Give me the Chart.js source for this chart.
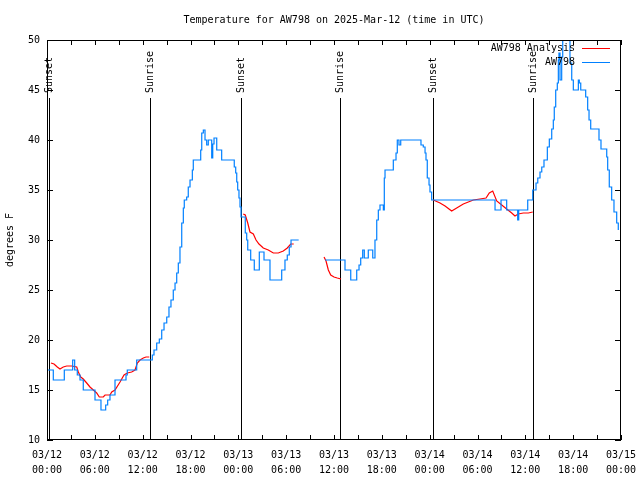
<!DOCTYPE html>
<html>
<head>
<meta charset="utf-8">
<script src="https://cdn.jsdelivr.net/npm/chart.js@4.4.1/dist/chart.umd.min.js"></script>
<style>
  body { margin: 0; background: #fff; }
  canvas { display: block; }
</style>
</head>
<body>
<canvas id="myChart" width="640" height="480"></canvas>
<script>
const titulo = 'Temperature for AW798 on 2025-Mar-12 (time in UTC)';
const dayLabels = ['03/12', '03/12', '03/12', '03/12', '03/13', '03/13', '03/13', '03/13', '03/14', '03/14', '03/14', '03/14', '03/15'];
const hourLabels = ['00:00', '06:00', '12:00', '18:00', '00:00', '06:00', '12:00', '18:00', '00:00', '06:00', '12:00', '18:00', '00:00'];
const yTicks = [10, 15, 20, 25, 30, 35, 40, 45, 50];

// sunrise / sunset marks, hours after 03/12 00:00
const eventHours = [0.25, 12.9, 24.3, 36.8, 48.4, 60.9];
const eventLabels = ['Sunset', 'Sunrise', 'Sunset', 'Sunrise', 'Sunset', 'Sunrise'];

// AW798 observations (hours, degrees F), null = gap
const obsHours = [
  0, 0.79, 2.17, 3.22, 3.47, 3.80, 4.14, 4.55, 6.02, 6.77, 7.36, 7.61, 7.90, 8.53, 9.91, 10.07, 11.25,
  13.21, 13.42, 13.76, 14.09, 14.39, 14.68, 15.02, 15.30, 15.55, 15.84, 16.06, 16.27, 16.47, 16.68, 16.90,
  17.10, 17.22, 17.52, 17.72, 17.94, 18.23, 18.35, 19.28, 19.41, 19.61, 19.82, 20.03, 20.23, 20.66, 20.79,
  20.95, 21.29, 21.91, 23.49, 23.67, 23.80, 23.92, 24.08, 24.21, 24.34, 24.87, 25.05, 25.18, 25.55, 26.00,
  26.63, 27.22, 27.97, 29.44, 29.85, 30.14, 30.39, 30.61, 31.57,
  33,
  34.87, 37.38, 38.10, 38.85, 39.14, 39.35, 39.60, 39.80, 40.30, 40.86, 41.14, 41.36, 41.56, 41.77, 42.19,
  42.31, 42.40, 43.44, 43.78, 43.94, 44.15, 44.37, 46.91, 47.20, 47.42, 47.54, 47.70, 47.92, 48.04, 48.25,
  56.20, 56.95, 57.66, 59.04, 59.17, 60.30, 60.93, 61.34, 61.56, 61.84, 62.06, 62.34, 62.76, 63.01, 63.31,
  63.51, 63.63, 63.81, 64.01, 64.14, 64.22, 64.35, 64.56, 64.69, 65.60, 65.82, 66.02, 66.65, 66.77, 66.95,
  67.57, 67.82, 67.99, 68.20, 69.24, 69.49, 70.21, 70.33, 70.53, 70.83, 71.12, 71.46, 71.66
];
const obsTemps = [
  17, 16, 17, 18, 17, 16.5, 16, 15, 14, 13, 13.5, 14, 14.5, 16, 16.5, 17, 18,
  18.5, 19, 19.7, 20.1, 21, 21.7, 22.3, 23.3, 24, 25, 25.7, 26.7, 27.7, 29.3, 31.7,
  33.2, 34, 34.3, 35.3, 36, 37, 38, 39, 40.7, 41, 40, 39.5, 40, 38.2, 39.6,
  40.2, 39, 38, 37.3, 36.7, 35.8, 35, 34.2, 33.3, 32.3, 30.7, 30, 29, 28, 27,
  28.8, 28, 26, 27, 28, 28.5, 29.3, 30, 30,
  null,
  28, 27, 26, 27, 27.5, 28.2, 29, 28.2, 29, 28.2, 30, 32, 33, 33.5, 33,
  36.2, 37, 38, 38.7, 40, 39.5, 40, 39.5, 39.3, 38.7, 38, 36.2, 35.5, 34.8, 34,
  33, 34, 33, 32, 33, 34, 35, 35.7, 36.2, 36.8, 37.3, 38, 39.3, 40.1, 41.1,
  42, 43.3, 45, 45.7, 48, 48.7, 46, 48.3, 51, 47.7, 46, 45, 46, 45.7, 45,
  44.3, 43, 42, 41.1, 40, 39.1, 38.3, 37, 35.3, 34, 32.8, 31.7, 31
];

// AW798 Analysis (hours, degrees F), null = gap
const anaHours = [
  0.50, 0.88, 1.29, 1.63, 2.04, 2.47, 3.10, 3.73, 3.93, 4.23, 4.55, 4.98, 5.39, 5.81, 6.23, 6.56, 7.06,
  7.28, 7.90, 8.12, 8.53, 9.16, 9.66, 10.07, 10.62, 11.04, 11.33, 11.67, 12.08, 12.42, 12.83,
  18,
  24.62, 24.87, 25.18, 25.46, 25.88, 26.22, 26.59, 27.13, 27.76, 28.39, 29.01, 29.64, 30.14, 30.57, 30.95,
  33,
  34.75, 35.00, 35.29, 35.59, 36.00, 36.41, 36.88,
  42,
  48.46, 49.30, 49.93, 50.76, 51.39, 52.22, 53.48, 54.31, 55.07, 55.48, 55.91, 56.41, 57.04, 57.66, 58.29,
  58.70, 59.11, 59.75, 60.38, 60.93
];
const anaTemps = [
  17.7, 17.6, 17.3, 17.1, 17.3, 17.4, 17.4, 17.3, 16.8, 16.3, 16.1, 15.7, 15.3, 15, 14.7, 14.3, 14.3,
  14.5, 14.5, 14.8, 15, 15.8, 16.5, 16.7, 16.8, 17, 17.7, 18, 18.2, 18.3, 18.3,
  null,
  32.6, 32.5, 31.7, 30.8, 30.6, 30, 29.6, 29.2, 29, 28.7, 28.7, 28.9, 29.2, 29.6, 29.6,
  null,
  28.3, 27.9, 27, 26.5, 26.3, 26.2, 26.1,
  null,
  34, 33.7, 33.4, 32.9, 33.2, 33.6, 34, 34.1, 34.2, 34.7, 34.9, 33.9, 33.5, 33.1, 32.7,
  32.4, 32.6, 32.7, 32.7, 32.8
];

const fuente = '"DejaVu Sans Mono", "Liberation Mono", monospace';
Chart.defaults.font.family = fuente;
Chart.defaults.font.size = 10;
Chart.defaults.color = '#000';

const series = [
  { label: 'AW798', hours: obsHours, temps: obsTemps, color: '#0080ff', stepped: true },
  { label: 'AW798 Analysis', hours: anaHours, temps: anaTemps, color: '#ff0000', stepped: false }
];

// frame, inward ticks, sun events and legend in gnuplot style
const marcoPlugin = {
  id: 'marco',
  beforeDatasetsDraw(chart) {
    const { ctx, chartArea: a, scales: { x, y } } = chart;
    ctx.save();
    ctx.strokeStyle = '#000';
    ctx.lineWidth = 1;
    ctx.fillStyle = '#000';
    ctx.font = '10px ' + fuente;
    eventHours.forEach((h, i) => {
      const px = Math.round(x.getPixelForValue(h)) + 0.5;
      ctx.beginPath();
      ctx.moveTo(px, y.getPixelForValue(44.2));
      ctx.lineTo(px, a.bottom);
      ctx.stroke();
      ctx.save();
      ctx.translate(px, y.getPixelForValue(44.7));
      ctx.rotate(-Math.PI / 2);
      ctx.textAlign = 'left';
      ctx.textBaseline = 'middle';
      ctx.fillText(eventLabels[i], 0, 0);
      ctx.restore();
    });
    ctx.restore();
  },
  afterDatasetsDraw(chart) {
    const { ctx, chartArea: a, scales: { x, y } } = chart;
    ctx.save();
    ctx.strokeStyle = '#000';
    ctx.lineWidth = 1;
    ctx.strokeRect(a.left + 0.5, a.top + 0.5, a.right - a.left - 1, a.bottom - a.top - 1);
    ctx.beginPath();
    x.ticks.forEach(t => {
      const px = Math.round(x.getPixelForValue(t.value)) + 0.5;
      ctx.moveTo(px, a.bottom); ctx.lineTo(px, a.bottom - 5);
      ctx.moveTo(px, a.top); ctx.lineTo(px, a.top + 5);
    });
    y.ticks.forEach(t => {
      const py = Math.round(y.getPixelForValue(t.value)) + 0.5;
      ctx.moveTo(a.left, py); ctx.lineTo(a.left + 6, py);
      ctx.moveTo(a.right, py); ctx.lineTo(a.right - 6, py);
    });
    ctx.stroke();

    // legend: analysis first, then observations
    ctx.font = '10px ' + fuente;
    ctx.textAlign = 'right';
    ctx.textBaseline = 'middle';
    [series[1], series[0]].forEach((s, i) => {
      const ly = a.top + 8.5 + i * 14;
      ctx.fillStyle = '#000';
      ctx.fillText(s.label, a.right - 46, ly);
      ctx.strokeStyle = s.color;
      ctx.beginPath();
      ctx.moveTo(a.right - 39, ly);
      ctx.lineTo(a.right - 11, ly);
      ctx.stroke();
    });
    ctx.restore();
  }
};

new Chart(document.getElementById('myChart'), {
  type: 'line',
  data: {
    datasets: series.map(s => ({
      label: s.label,
      data: s.hours.map((h, i) => ({ x: h, y: s.temps[i] })),
      borderColor: s.color,
      borderWidth: 1.2,
      pointRadius: 0,
      stepped: s.stepped,
      tension: 0,
      spanGaps: false,
      fill: false
    }))
  },
  options: {
    responsive: false,
    animation: false,
    devicePixelRatio: 1,
    layout: { padding: { left: 0, right: 19, top: 0, bottom: 0 } },
    plugins: {
      legend: { display: false },
      tooltip: { enabled: false },
      title: {
        display: true,
        fullSize: false,
        text: titulo,
        color: '#000',
        font: { size: 10, weight: 'normal', lineHeight: 1.2 },
        padding: { top: 14, bottom: 14 }
      }
    },
    scales: {
      x: {
        type: 'linear',
        min: 0,
        max: 72,
        grid: { display: false, drawTicks: false },
        border: { display: false },
        ticks: {
          stepSize: 3,
          autoSkip: false,
          maxRotation: 0,
          padding: 7.5,
          font: { size: 10, lineHeight: 1.5 },
          callback: (value) => value % 6 === 0 ? [dayLabels[value / 6], hourLabels[value / 6]] : ''
        },
        afterFit: (scale) => {
          scale.height = 40;
          scale.paddingLeft = 0;
          scale.paddingRight = 0;
        }
      },
      y: {
        min: yTicks[0],
        max: yTicks[yTicks.length - 1],
        grid: { display: false, drawTicks: false },
        border: { display: false },
        ticks: { stepSize: 5, padding: 7 },
        title: {
          display: true,
          text: 'degrees F',
          color: '#000',
          font: { size: 10, lineHeight: 1.2 },
          padding: { top: 4, bottom: 0 }
        },
        afterFit: (scale) => { scale.width = 47; }
      }
    }
  },
  plugins: [marcoPlugin]
});
</script>
</body>
</html>
